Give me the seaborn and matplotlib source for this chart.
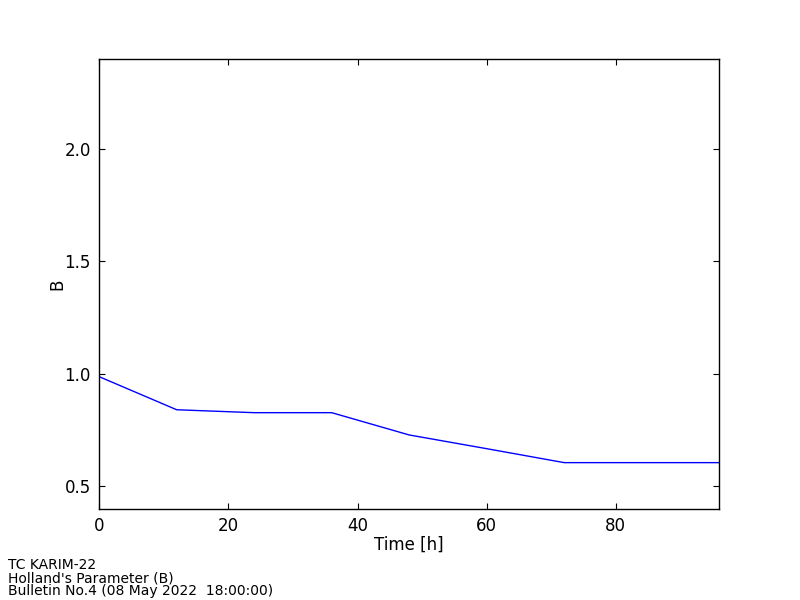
import matplotlib

matplotlib.use("Agg")
import matplotlib.pyplot as plt  # noqa: E402
import pandas as pd  # noqa: E402
import seaborn as sns  # noqa: E402

# Holland B parameter forecast, every 12 h
hours = [0, 12, 24, 36, 48, 60, 72, 84, 96]
b_param = [0.988, 0.841, 0.828, 0.828, 0.729, 0.668, 0.606, 0.606, 0.606]
info_lines = ["TC KARIM-22", "Holland's Parameter (B)", "Bulletin No.4 (08 May 2022  18:00:00)"]

sns.set_theme(style="white")
plt.rcParams["font.family"] = ["DejaVu Sans"]
plt.rcParams.update({"text.color": "black", "axes.labelcolor": "black",
                     "xtick.color": "black", "ytick.color": "black"})

df = pd.DataFrame({"time": hours, "B": b_param})

fig = plt.figure(figsize=(8, 6), dpi=100)
ax = fig.add_axes([0.124, 0.1517, 0.775, 0.75])
sns.lineplot(data=df, x="time", y="B", ax=ax, color="blue", linewidth=1)

ax.set_xlim(0, 96)
ax.set_ylim(0.4, 2.4)
ax.set_xticks([0, 20, 40, 60, 80])
ax.set_yticks([0.5, 1.0, 1.5, 2.0])
ax.set_xlabel("Time [h]", fontsize=12, labelpad=0)
ax.set_ylabel("B", fontsize=12, labelpad=-1)
ax.tick_params(direction="in", length=4, width=0.8, labelsize=12, colors="black",
               top=True, right=True, bottom=True, left=True, pad=6)
for s in ax.spines.values():
    s.set_color("black")
    s.set_linewidth(1)

fig.text(0.01, 0.003, "\n".join(info_lines), fontsize=10, ha="left", va="bottom",
         linespacing=0.9)

fig.savefig("out.png", dpi=100)
